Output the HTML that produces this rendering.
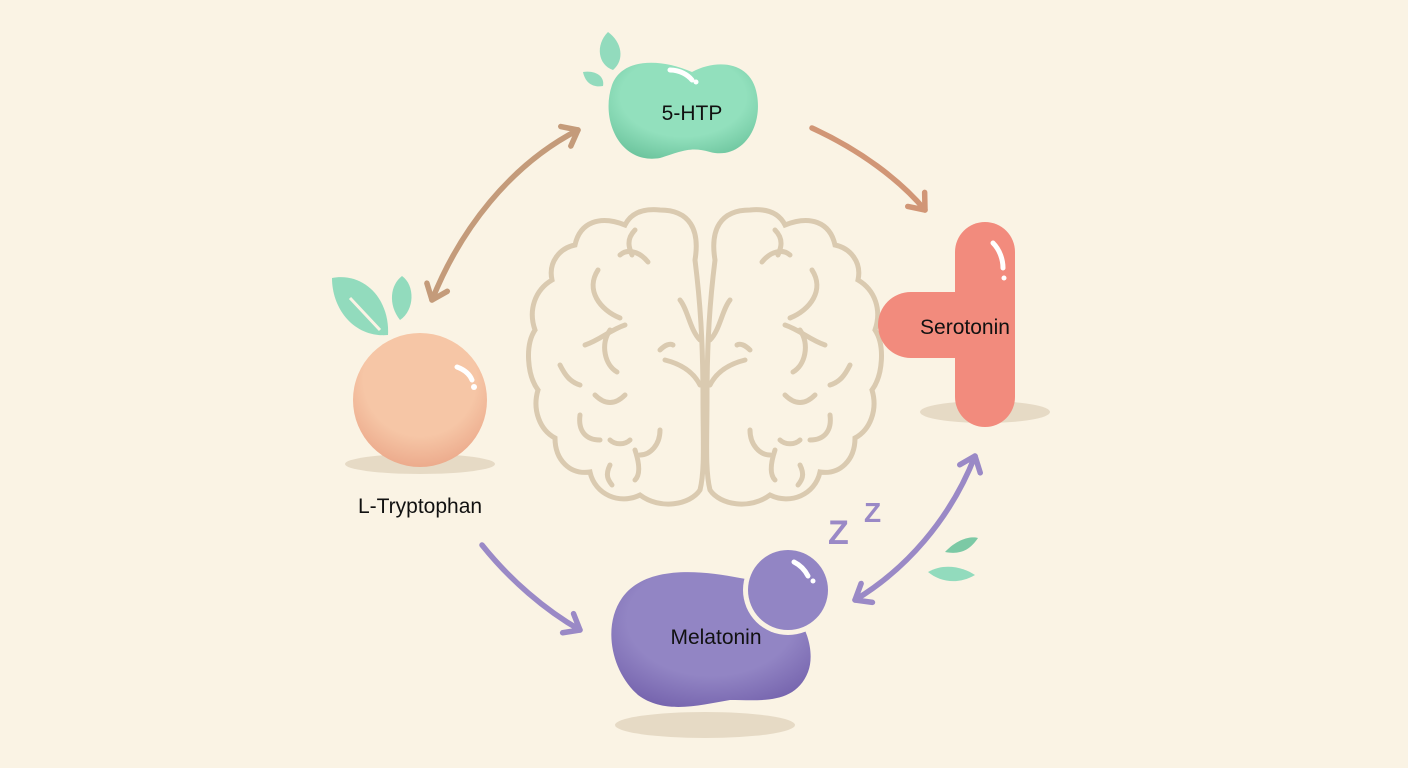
<!DOCTYPE html>
<html><head><meta charset="utf-8"><style>
html,body{margin:0;padding:0;background:#faf3e4;}
svg{display:block}
text{font-family:"Liberation Sans",sans-serif;fill:#111;}
</style></head><body>
<svg width="1408" height="768" viewBox="0 0 1408 768" xmlns="http://www.w3.org/2000/svg">
<defs>
<marker id="ab" viewBox="0 0 10 10" refX="6" refY="5" markerWidth="5" markerHeight="5" orient="auto-start-reverse" markerUnits="strokeWidth"><path d="M1,1 L6,5 L1,9" fill="none" stroke="context-stroke" stroke-width="2" stroke-linecap="round" stroke-linejoin="round"/></marker>
<radialGradient id="gm" cx="0.5" cy="0.35" r="0.7"><stop offset="0.6" stop-color="#92e0bd"/><stop offset="1" stop-color="#6cc49d"/></radialGradient>
<radialGradient id="gp" cx="0.5" cy="0.35" r="0.7"><stop offset="0.6" stop-color="#f6c6a6"/><stop offset="1" stop-color="#eaa587"/></radialGradient>
<radialGradient id="gv" cx="0.5" cy="0.35" r="0.7"><stop offset="0.6" stop-color="#9285c4"/><stop offset="1" stop-color="#7563ad"/></radialGradient>
</defs>
<rect width="1408" height="768" fill="#faf3e4"/>

<!-- brain -->
<g fill="none" stroke="#dacab0" stroke-width="5" stroke-linecap="round">
<path d="M695,260 C700,230 690,210 660,210 C640,208 630,215 625,225 C600,215 580,222 575,245 C560,248 548,262 552,280 C535,290 528,310 535,330 C525,345 527,375 538,390 C532,410 540,430 555,438 C555,460 570,475 590,472 C595,495 620,505 640,495 C660,510 690,505 700,490 C705,470 703,440 703,400 C703,340 700,300 695,260"/>
<path d="M715,260 C710,230 720,210 750,210 C770,208 780,215 785,225 C810,215 830,222 835,245 C850,248 862,262 858,280 C875,290 882,310 875,330 C885,345 883,375 872,390 C878,410 870,430 855,438 C855,460 840,475 820,472 C815,495 790,505 770,495 C750,510 720,505 710,490 C705,470 707,440 707,400 C707,340 710,300 715,260"/>
<path d="M598,270 C585,290 600,310 620,318"/><path d="M620,255 C628,248 640,252 648,262"/><path d="M635,230 C625,240 630,250 632,255"/>
<path d="M680,300 C688,310 690,330 700,340"/><path d="M585,345 C600,340 610,330 625,325"/><path d="M610,330 C600,345 605,365 617,372"/>
<path d="M560,365 C565,375 570,382 580,385"/><path d="M660,350 C665,345 670,343 673,345"/><path d="M665,360 C685,365 695,375 700,385"/>
<path d="M595,395 C605,405 615,405 625,395"/><path d="M580,415 C578,430 585,440 600,440"/><path d="M610,440 C615,445 625,445 630,440"/>
<path d="M660,430 C660,445 650,455 640,455"/><path d="M635,450 C640,465 640,475 635,480"/><path d="M610,465 C605,475 608,480 612,485"/>
<path d="M812,270 C825,290 810,310 790,318"/><path d="M790,255 C782,248 770,252 762,262"/><path d="M775,230 C785,240 780,250 778,255"/>
<path d="M730,300 C722,310 720,330 710,340"/><path d="M825,345 C810,340 800,330 785,325"/><path d="M800,330 C810,345 805,365 793,372"/>
<path d="M850,365 C845,375 840,382 830,385"/><path d="M750,350 C745,345 740,343 737,345"/><path d="M745,360 C725,365 715,375 710,385"/>
<path d="M815,395 C805,405 795,405 785,395"/><path d="M830,415 C832,430 825,440 810,440"/><path d="M800,440 C795,445 785,445 780,440"/>
<path d="M750,430 C750,445 760,455 770,455"/><path d="M775,450 C770,465 770,475 775,480"/><path d="M800,465 C805,475 802,480 798,485"/>
</g>

<!-- arrows -->
<g fill="none" stroke-width="5.5" stroke-linecap="round">
<path d="M578,130 C510,165 460,230 432,300" stroke="#c49b7a" marker-start="url(#ab)" marker-end="url(#ab)"/>
<path d="M812,128 C860,150 900,180 925,210" stroke="#d19676" marker-end="url(#ab)"/>
<path d="M482,545 C510,580 545,610 580,630" stroke="#9a89c6" marker-end="url(#ab)"/>
<path d="M975,456 C950,520 905,570 855,600" stroke="#9a89c6" marker-start="url(#ab)" marker-end="url(#ab)"/>
</g>

<!-- 5-HTP -->
<path d="M612,85 C622,58 660,58 692,72 C718,58 752,62 757,95 C763,130 740,160 710,152 C690,146 680,152 660,158 C620,165 600,120 612,85Z" fill="url(#gm)"/>
<path d="M670,70 C680,70 688,75 692,80" stroke="#fff" stroke-width="5" fill="none" stroke-linecap="round"/><circle cx="696" cy="82" r="2.5" fill="#fff"/>
<path d="M608,32 C622,42 625,60 613,70 C598,65 595,45 608,32Z" fill="#92dbbd"/>
<path d="M583,72 C595,70 605,76 603,86 C592,88 585,82 583,72Z" fill="#92dbbd"/>
<text x="692" y="120" font-size="21" text-anchor="middle">5-HTP</text>

<!-- Serotonin -->
<ellipse cx="985" cy="412" rx="65" ry="11" fill="#e6dac5"/>
<rect x="878" y="292" width="130" height="66" rx="33" fill="#f28b7d"/>
<rect x="955" y="222" width="60" height="205" rx="30" fill="#f28b7d"/>
<path d="M993,243 C1000,250 1003,260 1003,268" stroke="#fff" stroke-width="5" fill="none" stroke-linecap="round"/><circle cx="1004" cy="278" r="2.5" fill="#fff"/>
<text x="965" y="334" font-size="21" text-anchor="middle">Serotonin</text>

<!-- L-Tryptophan -->
<ellipse cx="420" cy="464" rx="75" ry="10" fill="#e6dac5"/>
<circle cx="420" cy="400" r="67" fill="url(#gp)"/>
<path d="M457,367 C465,370 470,375 472,380" stroke="#fff" stroke-width="5" fill="none" stroke-linecap="round"/><circle cx="474" cy="387" r="3" fill="#fff"/>
<path d="M332,278 C365,272 390,300 388,335 C355,338 332,310 332,278Z" fill="#92dbbd"/>
<path d="M402,276 C415,285 415,310 400,320 C388,305 390,285 402,276Z" fill="#92dbbd"/>
<path d="M350,298 L380,330" stroke="#faf3e4" stroke-width="3"/>
<text x="420" y="513" font-size="21" text-anchor="middle">L-Tryptophan</text>

<!-- Melatonin -->
<ellipse cx="705" cy="725" rx="90" ry="13" fill="#e6dac5"/>
<path d="M622,598 C645,565 700,570 740,578 C790,585 820,640 808,672 C795,705 760,700 730,700 C700,705 665,715 638,695 C610,670 603,625 622,598Z" fill="url(#gv)"/>
<circle cx="788" cy="590" r="45" fill="#faf3e4"/>
<circle cx="788" cy="590" r="40" fill="#9285c4"/>
<path d="M794,562 C800,565 805,570 808,576" stroke="#fff" stroke-width="5" fill="none" stroke-linecap="round"/><circle cx="813" cy="581" r="2.5" fill="#fff"/>
<text x="716" y="644" font-size="21" text-anchor="middle">Melatonin</text>
<text x="828" y="544" font-size="34" font-weight="bold" style="fill:#9a89c6">Z</text>
<text x="864" y="522" font-size="28" font-weight="bold" style="fill:#9a89c6">Z</text>
<path d="M945,552 C958,538 972,536 978,538 C970,550 960,555 945,552Z" fill="#7cc9a5"/>
<path d="M928,572 C945,562 965,568 975,575 C958,585 940,582 928,572Z" fill="#92dbbd"/>
</svg>
</body></html>
